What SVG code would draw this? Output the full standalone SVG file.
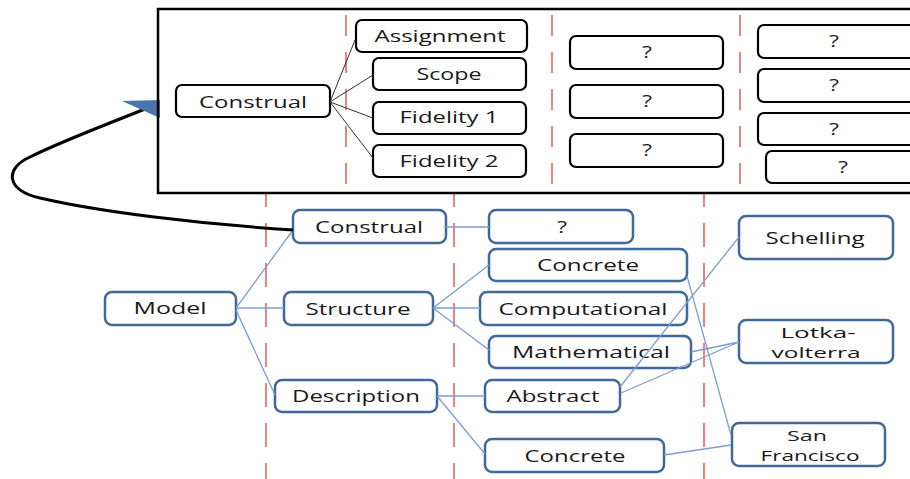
<svg xmlns="http://www.w3.org/2000/svg" width="910" height="479" viewBox="0 0 910 479">
<style>
text{font-family:"Open Sans","DejaVu Sans",sans-serif;font-size:17px;fill:#1a1a1a;text-anchor:middle}
text.sm{font-size:14px}
.tb{fill:#fff;stroke:#000;stroke-width:2.2}
.lb{fill:#fff;stroke:#41689c;stroke-width:2.5}
.dash{stroke:#f26060;stroke-width:1.6;fill:none}
.tc{stroke:#333;stroke-width:1;fill:none}
.lc{stroke:#7a9fd0;stroke-width:1.3;fill:none}
</style>
<rect width="910" height="479" fill="#fff"/>
<g id="guides">
<line class="dash" x1="346" y1="15" x2="346" y2="186" stroke-dasharray="21 16"/>
<line class="dash" x1="552" y1="15" x2="552" y2="186" stroke-dasharray="21 16"/>
<line class="dash" x1="740" y1="15" x2="740" y2="186" stroke-dasharray="21 16"/>
<line class="dash" x1="266" y1="193" x2="266" y2="479" stroke-dasharray="24 16" stroke-dashoffset="10"/>
<line class="dash" x1="454" y1="193" x2="454" y2="479" stroke-dasharray="24 16" stroke-dashoffset="10"/>
<line class="dash" x1="704" y1="193" x2="704" y2="479" stroke-dasharray="24 16" stroke-dashoffset="10"/>
</g>
<g id="t-construal"><rect class="tb" x="176" y="85" width="154" height="32" rx="6"/><text x="253" y="108" textLength="108" lengthAdjust="spacingAndGlyphs">Construal</text></g>
<g id="t-assignment"><rect class="tb" x="356" y="20" width="171" height="32" rx="6"/><text x="440" y="42" textLength="131" lengthAdjust="spacingAndGlyphs">Assignment</text></g>
<g id="t-scope"><rect class="tb" x="373" y="58" width="153" height="32" rx="6"/><text x="449" y="80" textLength="65" lengthAdjust="spacingAndGlyphs">Scope</text></g>
<g id="t-fidelity1"><rect class="tb" x="373" y="102" width="153" height="32" rx="6"/><text x="449" y="123" textLength="99" lengthAdjust="spacingAndGlyphs">Fidelity 1</text></g>
<g id="t-fidelity2"><rect class="tb" x="373" y="145" width="153" height="32" rx="6"/><text x="449" y="167" textLength="99" lengthAdjust="spacingAndGlyphs">Fidelity 2</text></g>
<g id="t-q1"><rect class="tb" x="570" y="36" width="153" height="33" rx="6"/><text x="647" y="58" textLength="10" lengthAdjust="spacingAndGlyphs">?</text></g>
<g id="t-q2"><rect class="tb" x="570" y="85" width="153" height="33" rx="6"/><text x="647" y="107" textLength="10" lengthAdjust="spacingAndGlyphs">?</text></g>
<g id="t-q3"><rect class="tb" x="570" y="134" width="153" height="33" rx="6"/><text x="647" y="156" textLength="10" lengthAdjust="spacingAndGlyphs">?</text></g>
<g id="t-q4"><rect class="tb" x="758" y="25" width="160" height="33" rx="6"/><text x="834" y="47" textLength="10" lengthAdjust="spacingAndGlyphs">?</text></g>
<g id="t-q5"><rect class="tb" x="758" y="69" width="160" height="33" rx="6"/><text x="834" y="91" textLength="10" lengthAdjust="spacingAndGlyphs">?</text></g>
<g id="t-q6"><rect class="tb" x="758" y="113" width="160" height="32" rx="6"/><text x="834" y="135" textLength="10" lengthAdjust="spacingAndGlyphs">?</text></g>
<g id="t-q7"><rect class="tb" x="766" y="151" width="160" height="32" rx="6"/><text x="843" y="173" textLength="10" lengthAdjust="spacingAndGlyphs">?</text></g>
<g id="model"><rect class="lb" x="105" y="292" width="131" height="33" rx="7"/><text x="170" y="314" textLength="73" lengthAdjust="spacingAndGlyphs">Model</text></g>
<g id="construal"><rect class="lb" x="293" y="210" width="153" height="33" rx="7"/><text x="369" y="233" textLength="108" lengthAdjust="spacingAndGlyphs">Construal</text></g>
<g id="structure"><rect class="lb" x="284" y="292" width="149" height="33" rx="7"/><text x="358" y="315" textLength="105" lengthAdjust="spacingAndGlyphs">Structure</text></g>
<g id="description"><rect class="lb" x="275" y="380" width="162" height="32" rx="7"/><text x="356" y="402" textLength="128" lengthAdjust="spacingAndGlyphs">Description</text></g>
<g id="unknown"><rect class="lb" x="489" y="210" width="144" height="33" rx="7"/><text x="562" y="233" textLength="10" lengthAdjust="spacingAndGlyphs">?</text></g>
<g id="concrete1"><rect class="lb" x="489" y="249" width="198" height="32" rx="7"/><text x="588" y="271" textLength="102" lengthAdjust="spacingAndGlyphs">Concrete</text></g>
<g id="computational"><rect class="lb" x="480" y="292" width="207" height="33" rx="7"/><text x="583" y="315" textLength="169" lengthAdjust="spacingAndGlyphs">Computational</text></g>
<g id="mathematical"><rect class="lb" x="489" y="336" width="202" height="32" rx="7"/><text x="591" y="358" textLength="158" lengthAdjust="spacingAndGlyphs">Mathematical</text></g>
<g id="abstract"><rect class="lb" x="485" y="380" width="135" height="32" rx="7"/><text x="553" y="402" textLength="93" lengthAdjust="spacingAndGlyphs">Abstract</text></g>
<g id="concrete2"><rect class="lb" x="485" y="439" width="179" height="33" rx="7"/><text x="575" y="462" textLength="101" lengthAdjust="spacingAndGlyphs">Concrete</text></g>
<g id="schelling"><rect class="lb" x="739" y="216" width="154" height="43" rx="7"/><text x="815" y="244" textLength="99" lengthAdjust="spacingAndGlyphs">Schelling</text></g>
<g id="lotka"><rect class="lb" x="739" y="320" width="154" height="43" rx="7"/><text class="sm" x="818" y="338" textLength="75" lengthAdjust="spacingAndGlyphs">Lotka-</text><text class="sm" x="816" y="358" textLength="89" lengthAdjust="spacingAndGlyphs">volterra</text></g>
<g id="sanfrancisco"><rect class="lb" x="732" y="423" width="153" height="43" rx="7"/><text class="sm" x="807" y="441" textLength="40" lengthAdjust="spacingAndGlyphs">San</text><text class="sm" x="810" y="461" textLength="99" lengthAdjust="spacingAndGlyphs">Francisco</text></g>
<g id="connectors">
<path class="tc" d="M330 102L355 40M330 102L373 75M330 102L373 118M330 102L373 158"/>
<path class="lc" d="M236 308L293 230M236 308L284 308M236 310L275 395M446 227L489 227M433 308L489 265M433 308L480 308M433 308L489 350M437 396L485 396M437 396L485 454M687 276L731 435M620 387L739 237M621 393L739 342M691 352L739 342M664 455L731 445"/>
<path d="M293 230C200 224 100 212 40 198C5 190 5 168 30 157C60 142 100 127 145 109" fill="none" stroke="#000" stroke-width="3"/>
<polygon points="122,101 160,100 160,118" fill="#4a76b0"/>
</g>
<rect id="zoom-frame" x="158" y="9" width="760" height="184" fill="none" stroke="#000" stroke-width="2.5"/>
</svg>
